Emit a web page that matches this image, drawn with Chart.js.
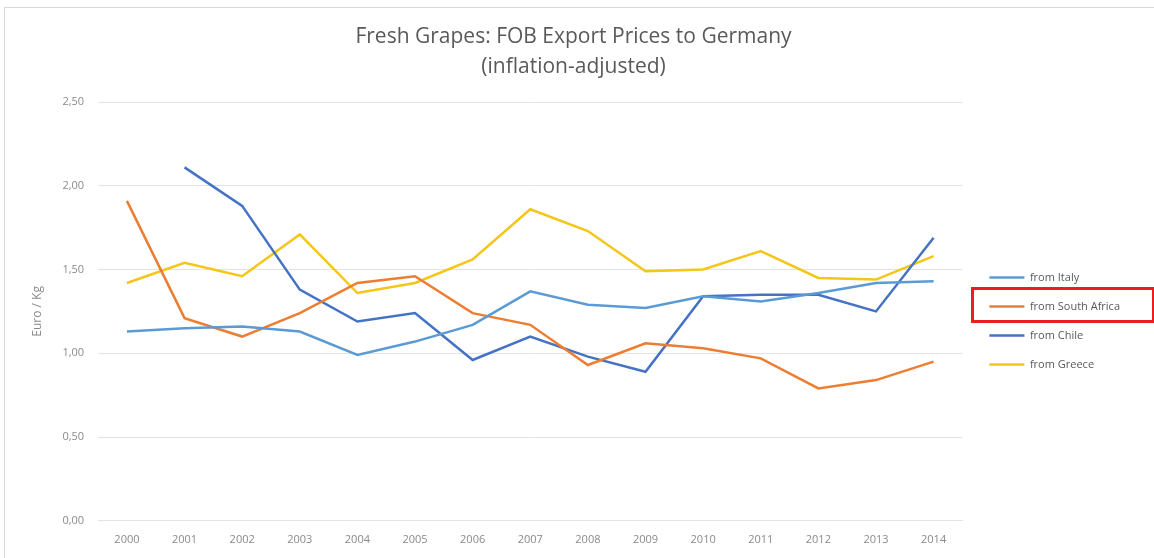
<!DOCTYPE html>
<html>
<head>
<meta charset="utf-8">
<script src="https://cdn.jsdelivr.net/npm/chart.js@4"></script>
<style>
  html, body { margin:0; padding:0; background:#fff; }
  #wrap { position:relative; width:1154px; height:558px; overflow:hidden; }
  #frame { position:absolute; left:4px; top:7px; width:1200px; height:600px; border-left:1px solid #d9d9d9; border-top:1px solid #d9d9d9; }
  #mark { position:absolute; left:971px; top:287px; width:178px; height:30px; border:3px solid #ee1c1c; }
  canvas { position:absolute; left:0; top:0; }
</style>
</head>
<body>
<div id="wrap">
  <div id="frame"></div>
  <canvas id="chart" width="1154" height="558"></canvas>
  <div id="mark"></div>
</div>
<script>
// ===== DONNÉES =====
const years = ['2000','2001','2002','2003','2004','2005','2006','2007','2008','2009','2010','2011','2012','2013','2014'];
const italy       = [1.13, 1.15, 1.16, 1.13, 0.99, 1.07, 1.17, 1.37, 1.29, 1.27, 1.34, 1.31, 1.36, 1.42, 1.43];
const southAfrica = [1.91, 1.21, 1.10, 1.24, 1.42, 1.46, 1.24, 1.17, 0.93, 1.06, 1.03, 0.97, 0.79, 0.84, 0.95];
const chile       = [null, 2.11, 1.88, 1.38, 1.19, 1.24, 0.96, 1.10, 0.98, 0.89, 1.34, 1.35, 1.35, 1.25, 1.69];
const greece      = [1.42, 1.54, 1.46, 1.71, 1.36, 1.42, 1.56, 1.86, 1.73, 1.49, 1.50, 1.61, 1.45, 1.44, 1.58];
const yTicks = [0, 0.5, 1, 1.5, 2, 2.5];

const FONT = "'Open Sans', 'Liberation Sans', sans-serif";
const grid = '#e3e3e3';
const txt = '#8a8a8a';

function ds(label, data, color) {
  return { label, data, borderColor:color, backgroundColor:color, borderWidth:2.5, pointRadius:0, tension:0, spanGaps:false };
}

// décale la légende (à droite, un peu plus bas) comme dans Excel
const legendShift = {
  id:'legendShift',
  afterLayout(chart) {
    const lg = chart.legend;
    if (!lg) return;
    lg.left += 9; lg.right += 9;
    lg.top += 42; lg.bottom += 42;
  }
};

new Chart(document.getElementById('chart'), {
  type: 'line',
  data: {
    labels: years,
    datasets: [
      ds('from Italy', italy, '#5b9bd5'),
      ds('from South Africa', southAfrica, '#ed7d31'),
      ds('from Chile', chile, '#4472c4'),
      ds('from Greece', greece, '#f5c518'),
    ]
  },
  options: {
    responsive:false, animation:false,
    layout:{ padding:{ left:26, right:33, top:0, bottom:0 } },
    plugins:{
      title:{ display:true, text:['Fresh Grapes: FOB Export Prices to Germany','(inflation-adjusted)'],
        color:'#595959', font:{ family:FONT, size:21, weight:'normal', lineHeight:1.43 }, padding:{ top:22, bottom:20 } },
      legend:{ position:'right', align:'center',
        labels:{ usePointStyle:true, pointStyle:'line', pointStyleWidth:35, color:'#595959', padding:18,
          font:{ family:FONT, size:11 } } },
      tooltip:{ enabled:false }
    },
    scales:{
      x:{ offset:true, grid:{ display:false, drawTicks:false }, border:{ color:grid },
        ticks:{ color:txt, font:{ family:FONT, size:11 }, padding:12 } },
      y:{ min:0, max:2.5, afterBuildTicks:ax=>{ ax.ticks = yTicks.map(v=>({value:v})); },
        grid:{ color:grid, drawTicks:false }, border:{ display:false },
        ticks:{ color:txt, font:{ family:FONT, size:11 }, padding:14, callback:v=>v.toFixed(2).replace('.',',') },
        title:{ display:true, text:'Euro / Kg', color:txt, font:{ family:FONT, size:12 } } }
    }
  },
  plugins:[legendShift]
});
</script>
</body>
</html>
